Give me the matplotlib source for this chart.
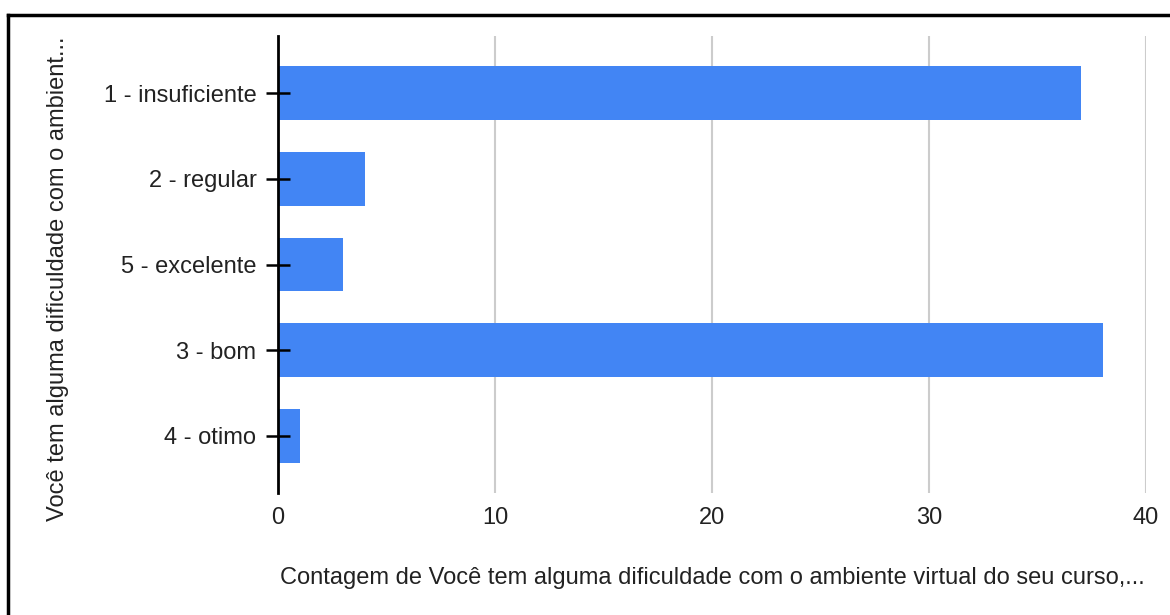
import matplotlib.pyplot as plt
from matplotlib.lines import Line2D

categories = ["1 - insuficiente", "2 - regular", "5 - excelente", "3 - bom", "4 - otimo"]
counts = [37, 4, 3, 38, 1]
xticks = [0, 10, 20, 30, 40]

plt.rcParams['font.family'] = ['Liberation Sans', 'DejaVu Sans']

fig = plt.figure(figsize=(11.7, 6.15), dpi=100)
ax = fig.add_axes([278/1170, 1 - 493/615, (1146 - 278)/1170, (493 - 36)/615])

ypos = list(range(len(categories)))
ax.barh(ypos, counts, height=0.63, color="#4285F4", zorder=2)

ax.set_xlim(0, 40)
ax.set_ylim(len(categories) - 0.33, -0.67)
ax.set_xticks(xticks)
ax.set_xticklabels([str(t) for t in xticks], fontsize=17, color="#222222")
ax.set_yticks(ypos)
ax.set_yticklabels(categories, fontsize=17, color="#222222")
ax.tick_params(axis='x', length=0, pad=10)
ax.tick_params(axis='y', direction='inout', length=17, width=1.8, color="black", pad=7)

ax.grid(axis='x', color="#cccccc", linewidth=1.5)
ax.xaxis.set_zorder(0.5)
ax.yaxis.set_zorder(5)
for s in ["top", "right", "bottom"]:
    ax.spines[s].set_visible(False)
ax.spines["left"].set_linewidth(2)
ax.spines["left"].set_zorder(4)

fig.text(712/1170, 1 - 578/615, "Contagem de Você tem alguma dificuldade com o ambiente virtual do seu curso,...",
         ha="center", va="center", fontsize=17, color="#222222")
fig.text(58/1170, 1 - 279/615, "Você tem alguma dificuldade com o ambient...",
         ha="center", va="center", rotation=90, fontsize=17, color="#222222")

# outer border (top and left edges visible)
fig.add_artist(Line2D([8/1170, 8/1170], [0, 1 - 15/615], transform=fig.transFigure, color="black", lw=2.5))
fig.add_artist(Line2D([8/1170, 1], [1 - 15/615, 1 - 15/615], transform=fig.transFigure, color="black", lw=2.5))

fig.savefig("out.png", dpi=100)
